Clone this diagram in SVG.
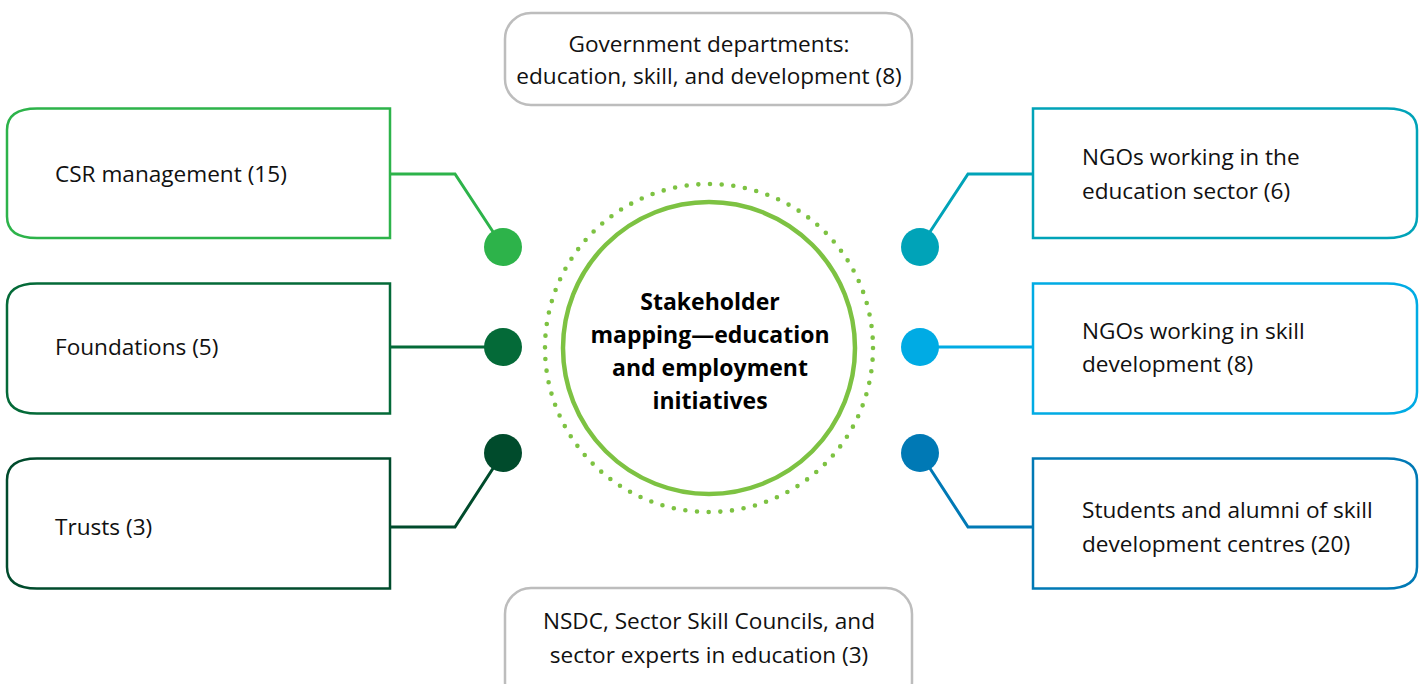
<svg xmlns="http://www.w3.org/2000/svg" width="1421" height="684" viewBox="0 0 1421 684">
<style>
text{font-family:"Open Sans","Noto Sans","Liberation Sans",sans-serif;font-size:22.6px;fill:#111}
.c{text-anchor:middle}
.t{font-weight:bold;font-size:23px;text-anchor:middle;fill:#000}
.box{fill:#fff;stroke-width:2.5}
.gray{fill:#fff;stroke:#bdbdbd;stroke-width:2.5}
.con{fill:none;stroke-width:3}
</style>
<rect width="1421" height="684" fill="#fff"/>
<g id="connectors">
<polyline class="con" stroke="#2db34a" points="390,174 455,174 503,247"/>
<line class="con" stroke="#046a38" x1="390" y1="347" x2="503" y2="347"/>
<polyline class="con" stroke="#004b2c" points="390,527 455,527 503,453"/>
<polyline class="con" stroke="#00a3b8" points="1033,174 968,174 920,247"/>
<line class="con" stroke="#00abe4" x1="1033" y1="347" x2="920" y2="347"/>
<polyline class="con" stroke="#0079b5" points="1033,527 968,527 920,453"/>
<circle cx="503" cy="247" r="19" fill="#2db34a"/>
<circle cx="503" cy="347" r="19" fill="#046a38"/>
<circle cx="503" cy="453" r="19" fill="#004b2c"/>
<circle cx="920" cy="247" r="19" fill="#00a3b8"/>
<circle cx="920" cy="347" r="19" fill="#00abe4"/>
<circle cx="920" cy="453" r="19" fill="#0079b5"/>
</g>
<g id="center">
<circle cx="709" cy="348" r="164" fill="none" stroke="#7dc242" stroke-width="4.6" stroke-linecap="round" stroke-dasharray="0 11.72"/>
<circle cx="709" cy="348" r="146" fill="#fff" stroke="#7dc242" stroke-width="4.5"/>
<text class="t" x="710" y="310">Stakeholder</text>
<text class="t" x="710" y="343">mapping—education</text>
<text class="t" x="710" y="376">and employment</text>
<text class="t" x="710" y="409">initiatives</text>
</g>
<g id="gov">
<rect class="gray" x="505" y="13" width="407" height="92" rx="26"/>
<text class="c" x="709" y="52">Government departments:</text>
<text class="c" x="709" y="84">education, skill, and development (8)</text>
</g>
<g id="nsdc">
<rect class="gray" x="505" y="588" width="407" height="120" rx="26"/>
<text class="c" x="709" y="629">NSDC, Sector Skill Councils, and</text>
<text class="c" x="709" y="663">sector experts in education (3)</text>
</g>
<g id="csr">
<path class="box" stroke="#2db34a" d="M390,108.5 H37 Q7,108.5 7,130 V216.5 Q7,238 37,238 H390 Z"/>
<text x="55" y="182">CSR management (15)</text>
</g>
<g id="foundations">
<path class="box" stroke="#046a38" d="M390,283.5 H37 Q7,283.5 7,305 V392 Q7,413.5 37,413.5 H390 Z"/>
<text x="55" y="355">Foundations (5)</text>
</g>
<g id="trusts">
<path class="box" stroke="#004b2c" d="M390,458.5 H37 Q7,458.5 7,480 V567 Q7,588.5 37,588.5 H390 Z"/>
<text x="55" y="535">Trusts (3)</text>
</g>
<g id="ngo-education">
<path class="box" stroke="#00a3b8" d="M1033,108.5 H1387 Q1417,108.5 1417,130 V216.5 Q1417,238 1387,238 H1033 Z"/>
<text x="1082" y="165">NGOs working in the</text>
<text x="1082" y="199">education sector (6)</text>
</g>
<g id="ngo-skill">
<path class="box" stroke="#00abe4" d="M1033,283.5 H1387 Q1417,283.5 1417,305 V392 Q1417,413.5 1387,413.5 H1033 Z"/>
<text x="1082" y="339">NGOs working in skill</text>
<text x="1082" y="372">development (8)</text>
</g>
<g id="students">
<path class="box" stroke="#0079b5" d="M1033,458.5 H1387 Q1417,458.5 1417,480 V567 Q1417,588.5 1387,588.5 H1033 Z"/>
<text x="1082" y="518">Students and alumni of skill</text>
<text x="1082" y="552">development centres (20)</text>
</g>
</svg>
